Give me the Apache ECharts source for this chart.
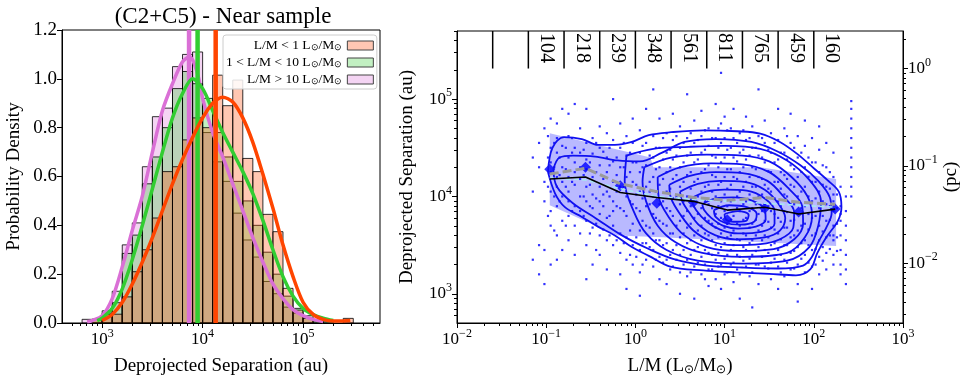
<!DOCTYPE html>
<html>
<head>
<meta charset="utf-8">
<script src="https://cdn.jsdelivr.net/npm/echarts@6/dist/echarts.min.js"></script>
<style>
html, body { margin: 0; padding: 0; background: #fff; }
#chart { width: 966px; height: 384px; }
</style>
</head>
<body>
<div id="chart"></div>
<script>
const FONT = '"Liberation Serif", "Times New Roman", serif';

// ---- left panel: histograms in log10(separation / au), 0.1 dex bins
const binStart = [2.8, 2.9, 3.0, 3.1, 3.2, 3.3, 3.4, 3.5, 3.6, 3.7, 3.8, 3.9, 4.0, 4.1,
                  4.2, 4.3, 4.4, 4.5, 4.6, 4.7, 4.8, 4.9, 5.0, 5.1, 5.2, 5.3, 5.4];
const binWidth = 0.1;
const histLow  = [0, 0.015, 0.035, 0.036, 0.107, 0.21, 0.30, 0.43, 0.62, 0.64, 0.75, 0.84, 0.80, 1.015,
                  0.89, 0.995, 0.674, 0.62, 0.445, 0.374, 0.142, 0.053, 0.019, 0, 0, 0, 0.019];
const histMid  = [0, 0.015, 0.04, 0.083, 0.285, 0.36, 0.57, 0.68, 0.80, 0.96, 1.03, 0.98, 0.92, 0.78,
                  0.68, 0.58, 0.50, 0.40, 0.29, 0.20, 0.11, 0.06, 0.03, 0.012, 0.005, 0, 0];
const histHigh = [0.015, 0.015, 0.05, 0.13, 0.32, 0.41, 0.64, 0.845, 0.88, 1.05, 1.10, 1.11, 0.78, 0.66,
                  0.58, 0.45, 0.34, 0.27, 0.17, 0.12, 0.065, 0.04, 0.02, 0.005, 0, 0, 0];

const kdeLowX  = [3.0, 3.1, 3.2, 3.3, 3.4, 3.5, 3.6, 3.7, 3.8, 3.9, 4.0, 4.1, 4.2, 4.3, 4.4, 4.5,
                  4.6, 4.7, 4.8, 4.9, 5.0, 5.1, 5.2, 5.3, 5.4, 5.47];
const kdeLowY  = [0.01, 0.035, 0.085, 0.16, 0.25, 0.35, 0.46, 0.57, 0.67, 0.76, 0.84, 0.9, 0.925, 0.905,
                  0.84, 0.74, 0.61, 0.47, 0.32, 0.19, 0.085, 0.035, 0.015, 0.008, 0.008, 0.01];
const kdeMidX  = [2.95, 3.0, 3.1, 3.2, 3.3, 3.4, 3.5, 3.6, 3.7, 3.8, 3.9, 4.0, 4.1, 4.2, 4.3, 4.4,
                  4.5, 4.6, 4.7, 4.8, 4.9, 5.0, 5.1, 5.2, 5.3];
const kdeMidY  = [0.01, 0.02, 0.06, 0.14, 0.26, 0.4, 0.55, 0.7, 0.84, 0.94, 1.0, 0.96, 0.87, 0.78,
                  0.7, 0.62, 0.53, 0.42, 0.3, 0.19, 0.11, 0.06, 0.035, 0.02, 0.01];
const kdeHighX = [2.85, 2.9, 3.0, 3.1, 3.2, 3.3, 3.4, 3.5, 3.6, 3.7, 3.8, 3.87, 3.95, 4.0, 4.1, 4.2,
                  4.3, 4.4, 4.5, 4.6, 4.7, 4.8, 4.9, 5.0, 5.1, 5.2];
const kdeHighY = [0.005, 0.01, 0.03, 0.1, 0.23, 0.38, 0.52, 0.7, 0.87, 0.98, 1.07, 1.09, 1.02, 0.92,
                  0.78, 0.68, 0.57, 0.46, 0.35, 0.25, 0.16, 0.1, 0.055, 0.03, 0.015, 0.006];

const medLow = 4.13, medMid = 3.95, medHigh = 3.865;

const lowLabel  = 'L/M < 1 L⊙/M⊙';
const midLabel  = '1 < L/M < 10 L⊙/M⊙';
const highLabel = 'L/M > 10 L⊙/M⊙';

// ---- right panel: log10(L/M) vs log10(separation / au)
const countEdges = [-1.6, -1.2, -0.8, -0.4, 0, 0.4, 0.8, 1.2, 1.6, 2.0];
const countBins  = [-1.2, -0.8, -0.4, 0, 0.4, 0.8, 1.2, 1.6, 2.0];
const counts     = [104, 218, 239, 348, 561, 811, 765, 459, 160];

const binX     = [-0.96, -0.56, -0.17, 0.24, 0.65, 1.03, 1.45, 1.83, 2.24];
const diamondY = [4.28, 4.30, 4.11, 3.93, 3.94, 3.76, 3.88, 3.84, 3.87];
const medianY  = [4.18, 4.20, 4.04, 3.99, 3.95, 3.86, 3.89, 3.82, 3.87];
const grayY    = [4.23, 4.29, 4.13, 4.05, 3.99, 3.96, 3.99, 3.94, 3.92];
const cyanY    = [4.19, 4.17, 4.08, 4.0, 3.97, 3.95, 3.93, 3.91, 3.89];

const shadeX = [-0.96, 0.17, 0.2, 1.4, 2.25, 2.25, 0.3, -0.2, -0.96];
const shadeY = [4.65, 4.40, 4.30, 4.30, 4.18, 3.49, 3.58, 3.60, 3.91];

const contours = [
  [[-0.98,4.25],[-0.93,4.5],[-0.8,4.61],[-0.6,4.59],[-0.42,4.53],[-0.23,4.53],[-0.04,4.56],[0.15,4.63],
   [0.4,4.66],[0.76,4.68],[1.14,4.67],[1.4,4.645],[1.62,4.56],[1.81,4.44],[2.0,4.29],[2.15,4.17],[2.28,4.05],
   [2.31,3.89],[2.27,3.75],[2.14,3.58],[2.04,3.42],[1.96,3.25],[1.8,3.19],[1.5,3.205],[1.13,3.22],[0.76,3.24],
   [0.39,3.28],[0.15,3.39],[-0.04,3.48],[-0.23,3.6],[-0.42,3.69],[-0.6,3.79],[-0.79,3.89],[-0.9,4.03],[-0.98,4.25]],
  [[-0.92,4.28],[-0.85,4.4],[-0.7,4.42],[-0.45,4.41],[-0.2,4.37],[0.05,4.36],[0.3,4.45],[0.55,4.56],[0.9,4.59],
   [1.3,4.56],[1.6,4.46],[1.85,4.32],[2.05,4.16],[2.18,3.99],[2.2,3.83],[2.14,3.68],[2.05,3.53],[1.98,3.38],
   [1.88,3.29],[1.6,3.26],[1.2,3.27],[0.8,3.29],[0.45,3.35],[0.15,3.46],[-0.15,3.6],[-0.45,3.78],[-0.7,3.93],
   [-0.88,4.1],[-0.92,4.28]],
  [[-0.1,4.42],[0.2,4.49],[0.6,4.51],[1.0,4.52],[1.4,4.49],[1.7,4.37],[1.95,4.17],[2.08,3.95],[2.05,3.7],
   [1.95,3.48],[1.7,3.34],[1.2,3.31],[0.7,3.34],[0.35,3.45],[0.12,3.62],[-0.02,3.85],[-0.12,4.15],[-0.1,4.42]],
  [[0.1,4.3],[0.4,4.4],[0.8,4.43],[1.2,4.42],[1.5,4.36],[1.75,4.2],[1.93,4.0],[1.98,3.8],[1.9,3.58],[1.7,3.42],
   [1.2,3.38],[0.75,3.42],[0.45,3.53],[0.25,3.7],[0.12,3.95],[0.08,4.15],[0.1,4.3]],
  [[0.25,4.2],[0.5,4.3],[0.85,4.34],[1.2,4.33],[1.5,4.25],[1.72,4.08],[1.87,3.9],[1.88,3.72],[1.78,3.56],
   [1.55,3.46],[1.15,3.44],[0.8,3.48],[0.55,3.6],[0.38,3.78],[0.26,4.0],[0.25,4.2]],
  [[0.38,4.12],[0.6,4.21],[0.9,4.25],[1.2,4.24],[1.48,4.16],[1.66,4.0],[1.78,3.84],[1.77,3.68],[1.62,3.56],
   [1.4,3.51],[1.1,3.5],[0.85,3.54],[0.65,3.65],[0.5,3.82],[0.4,3.98],[0.38,4.12]],
  [[0.5,4.05],[0.7,4.13],[0.95,4.16],[1.22,4.15],[1.45,4.07],[1.6,3.93],[1.68,3.78],[1.62,3.65],[1.45,3.58],
   [1.12,3.56],[0.9,3.6],[0.72,3.7],[0.6,3.84],[0.52,3.96],[0.5,4.05]],
  [[0.62,3.98],[0.8,4.05],[1.0,4.07],[1.25,4.06],[1.45,3.98],[1.56,3.85],[1.56,3.72],[1.42,3.64],[1.15,3.62],
   [0.95,3.66],[0.8,3.74],[0.68,3.86],[0.62,3.98]],
  [[0.75,3.92],[0.9,3.98],[1.1,3.99],[1.3,3.96],[1.45,3.87],[1.46,3.76],[1.35,3.69],[1.15,3.67],[0.98,3.7],
   [0.85,3.78],[0.77,3.86],[0.75,3.92]],
  [[0.88,3.86],[1.05,3.91],[1.25,3.89],[1.36,3.82],[1.33,3.74],[1.18,3.71],[1.0,3.73],[0.9,3.79],[0.88,3.86]],
  [[1.0,3.82],[1.15,3.85],[1.27,3.81],[1.24,3.75],[1.1,3.74],[1.01,3.77],[1.0,3.82]]
];

// individual sources, grouped by log10(L/M) column
const dotCols = [
  [-1.15, [3.35, 4.4, 4.05]],
  [-1.08, [4.55, 3.5, 4.3, 3.2]],
  [-1.02, [3.95, 4.7, 3.45, 4.15, 3.1]],
  [-0.98, [4.4, 4.1, 3.8, 4.62]],
  [-0.95, [4.25, 4.5, 4.05, 3.85, 3.7, 4.8, 3.3, 4.35]],
  [-0.91, [4.3, 4.0, 4.55, 3.65]],
  [-0.88, [4.6, 4.1, 3.9, 4.45, 3.6, 4.2, 3.35, 4.75]],
  [-0.85, [4.22, 3.95, 4.4]],
  [-0.82, [4.3, 4.0, 4.52, 3.75, 4.15, 4.9, 3.45]],
  [-0.78, [4.5, 4.1, 3.7, 4.28]],
  [-0.75, [4.4, 4.2, 3.95, 4.62, 3.8, 4.05, 3.55, 4.85]],
  [-0.71, [4.15, 3.85, 4.45, 4.6]],
  [-0.68, [4.35, 4.12, 3.9, 4.5, 3.7, 4.25, 3.4, 4.95]],
  [-0.62, [4.45, 4.18, 4.0, 3.85, 4.7, 3.62, 4.3]],
  [-0.58, [4.22, 4.0, 3.8, 4.48]],
  [-0.55, [4.28, 4.1, 3.95, 4.55, 3.75, 4.38, 3.5, 3.15, 4.9]],
  [-0.51, [4.35, 3.9, 3.62, 4.12]],
  [-0.48, [4.2, 4.02, 3.88, 4.44, 3.68, 4.6, 3.3]],
  [-0.44, [4.25, 3.98, 3.72, 4.55, 3.45]],
  [-0.4, [4.32, 4.1, 3.82, 4.5, 3.6, 3.95, 4.72, 3.4]],
  [-0.36, [4.18, 3.9, 3.66, 4.46, 4.02]],
  [-0.32, [4.25, 4.05, 3.78, 4.4, 3.55, 4.65, 3.25]],
  [-0.29, [4.32, 4.0, 3.6, 4.5, 3.8]],
  [-0.25, [4.15, 3.95, 3.7, 4.36, 3.5, 4.58, 3.85, 5.0]],
  [-0.21, [4.22, 3.9, 3.55, 4.4, 4.05]],
  [-0.17, [4.3, 4.1, 3.88, 3.62, 4.5, 3.42, 4.75, 3.2]],
  [-0.13, [4.1, 3.85, 3.52, 4.3, 4.55]],
  [-0.1, [4.2, 4.0, 3.8, 4.42, 3.58, 4.62, 3.35, 3.05]],
  [-0.06, [4.25, 3.95, 3.65, 4.45, 3.4]],
  [-0.03, [4.15, 3.92, 3.72, 4.35, 3.5, 4.55, 3.3, 4.8]],
  [0.01, [4.12, 3.88, 3.58, 4.35, 3.38, 4.02]],
  [0.05, [4.25, 4.05, 3.85, 3.65, 4.45, 3.45, 4.68, 3.22, 2.98]],
  [0.08, [4.3, 3.98, 3.75, 4.52, 3.52, 3.3]],
  [0.12, [4.1, 3.9, 4.32, 3.7, 3.52, 4.55, 3.35, 4.9]],
  [0.16, [4.15, 3.92, 3.68, 4.42, 3.48, 4.05]],
  [0.2, [4.2, 4.0, 3.82, 4.4, 3.62, 3.45, 4.62, 3.28, 5.1]],
  [0.23, [4.28, 4.05, 3.78, 3.55, 4.5, 3.35]],
  [0.27, [4.12, 3.92, 4.3, 3.75, 3.55, 4.5, 3.38, 4.8, 3.15]],
  [0.31, [4.18, 3.95, 3.72, 4.38, 3.5, 3.32, 4.6]],
  [0.35, [4.05, 3.88, 4.25, 3.7, 4.45, 3.52, 3.35, 4.65, 3.1]],
  [0.39, [4.3, 4.08, 3.85, 3.62, 4.48, 3.4, 3.25]],
  [0.42, [4.18, 3.98, 3.8, 4.38, 3.62, 4.58, 3.45, 3.28, 4.85]],
  [0.46, [4.22, 4.0, 3.7, 3.5, 4.42, 3.35, 4.62]],
  [0.5, [4.1, 3.92, 3.75, 4.3, 3.58, 4.5, 3.4, 4.72, 3.22, 3.0]],
  [0.54, [4.15, 3.95, 3.8, 3.62, 4.35, 3.45, 3.3, 4.55]],
  [0.58, [4.0, 3.85, 4.22, 3.68, 4.42, 3.52, 3.35, 4.6, 3.18, 5.05]],
  [0.62, [4.25, 4.08, 3.9, 3.72, 3.55, 4.45, 3.4, 3.22, 4.65]],
  [0.66, [4.15, 3.95, 3.78, 4.35, 3.6, 4.55, 3.45, 3.28, 4.78, 2.95]],
  [0.7, [4.18, 4.0, 3.82, 3.65, 3.48, 4.38, 3.32, 4.58]],
  [0.74, [4.05, 3.88, 4.25, 3.7, 4.45, 3.55, 3.38, 4.62, 3.2, 4.88]],
  [0.78, [4.28, 4.1, 3.95, 3.78, 3.62, 3.45, 4.48, 3.3, 4.68, 3.15]],
  [0.82, [4.12, 3.92, 3.75, 4.32, 3.6, 4.52, 3.42, 3.25, 4.7, 3.08]],
  [0.86, [4.22, 4.05, 3.88, 3.72, 3.55, 4.42, 3.4, 3.25, 4.6]],
  [0.9, [4.0, 3.82, 4.2, 3.68, 4.4, 3.5, 4.6, 3.35, 3.15, 4.95]],
  [0.93, [4.3, 4.12, 3.9, 3.72, 3.58, 3.42, 4.5, 3.28, 4.7]],
  [0.96, [3.95, 3.78, 4.15, 3.62, 4.35, 3.48, 4.55, 3.3, 4.75, 5.27, 3.05]],
  [1.0, [4.2, 4.02, 3.85, 3.68, 3.52, 4.4, 3.36, 3.2, 4.6, 4.82]],
  [1.03, [4.08, 3.9, 3.72, 4.28, 3.58, 4.48, 3.4, 4.68, 3.22]],
  [1.07, [4.28, 4.12, 3.95, 3.76, 3.6, 3.45, 4.5, 3.3, 4.7]],
  [1.1, [3.98, 3.8, 4.2, 3.65, 4.4, 3.5, 4.6, 3.32, 3.12, 4.9]],
  [1.14, [4.18, 4.0, 3.88, 3.72, 3.56, 4.36, 3.4, 3.25, 4.55]],
  [1.17, [4.05, 3.85, 3.7, 4.25, 3.55, 4.45, 3.38, 4.65, 3.2, 2.95]],
  [1.21, [4.3, 4.1, 3.92, 3.76, 3.62, 3.48, 4.48, 3.34, 4.68]],
  [1.24, [3.95, 3.78, 4.15, 3.6, 4.38, 3.45, 4.58, 3.28, 4.82]],
  [1.28, [4.2, 4.02, 3.85, 3.68, 3.52, 4.42, 3.36, 4.6, 3.18]],
  [1.31, [4.1, 3.88, 3.72, 4.3, 3.55, 4.5, 3.4, 3.22, 4.72, 2.86]],
  [1.35, [4.28, 4.1, 3.92, 3.76, 3.6, 3.44, 4.5, 3.3]],
  [1.38, [4.0, 3.82, 4.2, 3.65, 4.42, 3.48, 4.62, 3.3, 3.1, 5.1]],
  [1.42, [4.18, 4.02, 3.85, 3.7, 3.55, 4.4, 3.38, 4.6]],
  [1.45, [3.92, 3.75, 4.12, 3.6, 4.35, 3.45, 4.55, 3.28, 4.78]],
  [1.49, [4.26, 4.08, 3.9, 3.74, 3.58, 3.42, 4.48, 3.26]],
  [1.52, [4.05, 3.85, 4.25, 3.68, 4.45, 3.5, 3.32, 4.65, 3.15]],
  [1.56, [4.15, 3.98, 3.82, 3.66, 3.52, 4.35, 3.36, 4.55]],
  [1.6, [3.95, 3.78, 4.15, 3.62, 4.38, 3.45, 4.58, 3.28, 4.9, 3.05]],
  [1.63, [4.25, 4.08, 3.9, 3.74, 3.56, 4.45, 3.4, 3.22]],
  [1.67, [4.02, 3.85, 4.22, 3.68, 4.45, 3.5, 3.35, 4.7, 3.18]],
  [1.7, [4.18, 4.0, 3.84, 3.68, 3.5, 4.38, 3.32, 4.62]],
  [1.74, [3.92, 3.75, 4.12, 3.58, 4.32, 3.42, 4.55, 3.25, 4.85]],
  [1.78, [4.1, 3.92, 3.76, 3.6, 3.44, 4.28, 3.26, 4.5]],
  [1.82, [4.0, 3.82, 4.2, 3.65, 4.4, 3.48, 3.3, 4.62, 3.1, 2.92]],
  [1.86, [4.05, 3.88, 3.7, 3.52, 4.25, 3.36, 4.45]],
  [1.9, [3.9, 3.72, 4.1, 3.55, 4.3, 3.4, 4.52, 3.22, 4.78]],
  [1.94, [4.0, 3.82, 3.66, 3.5, 4.2, 3.32, 4.4]],
  [1.98, [3.95, 3.78, 4.15, 3.6, 4.35, 3.45, 3.28, 4.6, 3.05]],
  [2.02, [3.98, 3.8, 3.62, 3.46, 4.15, 3.3, 4.35]],
  [2.06, [3.88, 3.7, 4.05, 3.55, 4.25, 3.38, 4.48, 3.2, 4.72]],
  [2.1, [3.95, 3.8, 3.64, 3.48, 4.12, 3.34, 4.32]],
  [2.14, [3.92, 3.75, 4.1, 3.58, 4.3, 3.42, 4.55, 3.25]],
  [2.18, [3.9, 3.76, 3.6, 4.08, 3.46, 4.25]],
  [2.22, [3.85, 3.7, 4.02, 3.55, 4.2, 3.4, 4.45, 3.3, 3.6, 3.95]],
  [2.26, [3.88, 3.72, 3.58, 4.02, 3.44]],
  [2.3, [3.9, 3.75, 3.6, 4.1, 3.45, 3.3, 3.82, 3.2]],
  [2.36, [3.85, 3.7, 3.55, 3.4, 3.25, 3.1, 4.0]],
  [2.42, [4.98, 4.9, 4.8, 4.7, 4.6, 4.5, 4.4, 4.3, 4.2, 4.1, 4.0]]
];

// axis ranges (log10 units)
const histXMin = 2.6, histXMax = 5.766;
const lmMin = -2, lmMax = 3;
const sepMin = 2.7, sepMax = 5.7;
const AU_PER_PC = Math.log10(206265);

function logMinor(lo, hi) {
  const out = [];
  for (let n = Math.floor(lo); n <= Math.ceil(hi); n++) {
    for (let k = 2; k <= 9; k++) {
      const v = n + Math.log10(k);
      if (v > lo + 0.001 && v < hi - 0.001) out.push(v);
    }
  }
  return out;
}

const supRich = {
  b: { fontFamily: FONT, fontSize: 17, color: '#000' },
  s: { fontFamily: FONT, fontSize: 12, color: '#000', padding: [0, 0, 12, 0] }
};
function pow10(v) {
  const n = Math.round(v);
  return '{b|10}{s|' + (n < 0 ? '\u2212' + (-n) : n) + '}';
}
const nameStyle = {
  fontFamily: FONT, fontSize: 19, color: '#000',
  rich: { s: { fontFamily: FONT, fontSize: 12, color: '#000', padding: [7, 0, 0, 0] } }
};

function majorAxis(grid, min, max, ticks, position, name, gap, rotate) {
  return {
    type: 'value', gridIndex: grid, min: min, max: max, position: position,
    axisLine: { show: true, onZero: false, lineStyle: { color: '#000', width: 1 } },
    axisTick: { show: true, length: 5, customValues: ticks, lineStyle: { color: '#000' } },
    axisLabel: { show: true, customValues: ticks, formatter: pow10, margin: 5, rich: supRich },
    splitLine: { show: false },
    name: name, nameLocation: 'middle', nameGap: gap, nameRotate: rotate,
    nameTextStyle: nameStyle
  };
}
function minorAxis(grid, min, max, ticks, position) {
  return {
    type: 'value', gridIndex: grid, min: min, max: max, position: position,
    axisLine: { show: false, onZero: false },
    axisTick: { show: true, length: 3, customValues: ticks, lineStyle: { color: '#000' } },
    axisLabel: { show: false },
    splitLine: { show: false }
  };
}

function histSeries(name, vals, fill) {
  const data = [];
  binStart.forEach((b, i) => { if (vals[i] > 0) data.push([b, b + binWidth, vals[i]]); });
  return {
    type: 'custom', name: name, xAxisIndex: 0, yAxisIndex: 0,
    encode: { x: [0, 1], y: 2 },
    data: data,
    renderItem(params, api) {
      const p0 = api.coord([api.value(0), api.value(2)]);
      const p1 = api.coord([api.value(1), 0]);
      return {
        type: 'rect',
        shape: { x: p0[0], y: p0[1], width: p1[0] - p0[0], height: p1[1] - p0[1] },
        style: { fill: fill, stroke: 'rgba(0,0,0,0.8)', lineWidth: 1 }
      };
    }
  };
}
function kdeSeries(xs, ys, color) {
  return {
    type: 'line', xAxisIndex: 0, yAxisIndex: 0, smooth: 0.3, symbol: 'none',
    data: xs.map((x, i) => [x, ys[i]]),
    lineStyle: { color: color, width: 3.5 }
  };
}
function medianSeries(x, color) {
  return {
    type: 'line', xAxisIndex: 0, yAxisIndex: 0, symbol: 'none',
    data: [[x, 0], [x, 1.2]],
    lineStyle: { color: color, width: 4.5 }
  };
}

const dots = [];
dotCols.forEach(c => c[1].forEach(y => dots.push([c[0], y])));

const rightSeries = [
  {
    type: 'scatter', xAxisIndex: 2, yAxisIndex: 1, symbol: 'rect', symbolSize: 2.2,
    itemStyle: { color: '#0000ff' }, data: dots
  },
  {
    type: 'custom', xAxisIndex: 2, yAxisIndex: 1, data: [[shadeX[0], shadeY[0]]],
    renderItem(params, api) {
      const pts = shadeX.map((x, i) => api.coord([x, shadeY[i]]));
      return { type: 'polygon', shape: { points: pts }, style: { fill: 'rgba(60,60,255,0.36)' } };
    }
  }
];
contours.forEach(c => rightSeries.push({
  type: 'line', xAxisIndex: 2, yAxisIndex: 1, symbol: 'none', smooth: 0.35,
  data: c, lineStyle: { color: '#1010f0', width: 1.8 }
}));
rightSeries.push(
  {
    type: 'custom', xAxisIndex: 2, yAxisIndex: 1, data: countEdges.map(e => [e, sepMax]),
    renderItem(params, api) {
      const a = api.coord([api.value(0), sepMax]);
      const b = api.coord([api.value(0), AU_PER_PC]);
      return { type: 'line', shape: { x1: a[0], y1: a[1], x2: b[0], y2: b[1] },
               style: { stroke: '#000', lineWidth: 1.5 } };
    }
  },
  {
    type: 'custom', xAxisIndex: 2, yAxisIndex: 1,
    data: countBins.map((b, i) => [b + 0.2, sepMax, counts[i]]),
    renderItem(params, api) {
      const p = api.coord([api.value(0), api.value(1)]);
      return { type: 'text', x: p[0], y: p[1] + 2, rotation: -Math.PI / 2,
               style: { text: String(api.value(2)), fontFamily: FONT, fontSize: 20, fill: '#000',
                        align: 'left', verticalAlign: 'middle' } };
    }
  },
  {
    type: 'line', xAxisIndex: 2, yAxisIndex: 1, symbol: 'none',
    data: binX.map((x, i) => [x, cyanY[i]]),
    lineStyle: { color: '#a8e8f0', width: 1.6, type: [5, 3] }
  },
  {
    type: 'line', xAxisIndex: 2, yAxisIndex: 1, symbol: 'none',
    data: binX.map((x, i) => [x, grayY[i]]),
    lineStyle: { color: '#9a9a9a', width: 3, type: [9, 4] }
  },
  {
    type: 'line', xAxisIndex: 2, yAxisIndex: 1, symbol: 'none',
    data: binX.map((x, i) => [x, medianY[i]]),
    lineStyle: { color: '#000', width: 1.6 }
  },
  {
    type: 'scatter', xAxisIndex: 2, yAxisIndex: 1, symbol: 'diamond', symbolSize: 11,
    itemStyle: { color: '#0000ff' }, data: binX.map((x, i) => [x, diamondY[i]])
  }
);

const option = {
  animation: false,
  textStyle: { fontFamily: FONT, color: '#000' },
  title: {
    text: '(C2+C5) - Near sample', left: 223, top: 5, textAlign: 'center', padding: 0,
    textStyle: { fontFamily: FONT, fontSize: 23, fontWeight: 'normal', color: '#000' }
  },
  legend: {
    orient: 'vertical', left: 223, top: 35, align: 'right', icon: 'rect',
    itemWidth: 26, itemHeight: 9, itemGap: 2,
    backgroundColor: 'rgba(255,255,255,0.85)', borderColor: '#cccccc', borderWidth: 1,
    borderRadius: 3, padding: [3, 3, 2, 3],
    formatter: n => n.replace(/⊙/g, '{s|⊙}'),
    textStyle: {
      fontFamily: FONT, fontSize: 13.5, color: '#000', width: 114, align: 'right', lineHeight: 15,
      rich: { s: { fontFamily: FONT, fontSize: 9, color: '#000', padding: [4, 0, 0, 0] } }
    },
    data: [
      { name: lowLabel, itemStyle: { color: '#ffc7b3', borderColor: '#444', borderWidth: 1 } },
      { name: midLabel, itemStyle: { color: '#c2f0c2', borderColor: '#444', borderWidth: 1 } },
      { name: highLabel, itemStyle: { color: '#f4d4f3', borderColor: '#444', borderWidth: 1 } }
    ]
  },
  grid: [
    { left: 62, top: 30, width: 318, height: 293, show: true, borderColor: '#000', borderWidth: 1 },
    { left: 457, top: 31, width: 446, height: 292, show: true, borderColor: '#000', borderWidth: 1 }
  ],
  xAxis: [
    majorAxis(0, histXMin, histXMax, [3, 4, 5], 'bottom', 'Deprojected Separation (au)', 34, 0),
    minorAxis(0, histXMin, histXMax, logMinor(2.68, histXMax), 'bottom'),
    majorAxis(1, lmMin, lmMax, [-2, -1, 0, 1, 2, 3], 'bottom', 'L/M (L{s|⊙}/M{s|⊙})', 34, 0),
    minorAxis(1, lmMin, lmMax, logMinor(lmMin, lmMax), 'bottom')
  ],
  yAxis: [
    {
      type: 'value', gridIndex: 0, min: 0, max: 1.2, interval: 0.2, position: 'left',
      axisLine: { show: true, lineStyle: { color: '#000' } },
      axisTick: { show: true, length: 5, lineStyle: { color: '#000' } },
      axisLabel: { fontFamily: FONT, fontSize: 19, color: '#000', margin: 5, formatter: v => v.toFixed(1) },
      splitLine: { show: false },
      name: 'Probability Density', nameLocation: 'middle', nameGap: 38, nameRotate: 90,
      nameTextStyle: nameStyle
    },
    majorAxis(1, sepMin, sepMax, [3, 4, 5], 'left', 'Deprojected Separation (au)', 40, 90),
    minorAxis(1, sepMin, sepMax, logMinor(sepMin, sepMax), 'left'),
    majorAxis(1, sepMin - AU_PER_PC, sepMax - AU_PER_PC, [-2, -1, 0], 'right', '(pc)', 38, 90),
    minorAxis(1, sepMin - AU_PER_PC, sepMax - AU_PER_PC,
              logMinor(sepMin - AU_PER_PC, sepMax - AU_PER_PC), 'right')
  ],
  series: [
    histSeries(highLabel, histHigh, 'rgba(218,112,214,0.3)'),
    kdeSeries(kdeHighX, kdeHighY, '#da70d6'),
    medianSeries(medHigh, '#da70d6'),
    histSeries(midLabel, histMid, 'rgba(50,205,50,0.3)'),
    kdeSeries(kdeMidX, kdeMidY, '#32cd32'),
    medianSeries(medMid, '#32cd32'),
    histSeries(lowLabel, histLow, 'rgba(255,69,0,0.3)'),
    kdeSeries(kdeLowX, kdeLowY, '#ff4500'),
    medianSeries(medLow, '#ff4500')
  ].concat(rightSeries)
};

const chart = echarts.init(document.getElementById('chart'));
chart.setOption(option);
</script>
</body>
</html>
